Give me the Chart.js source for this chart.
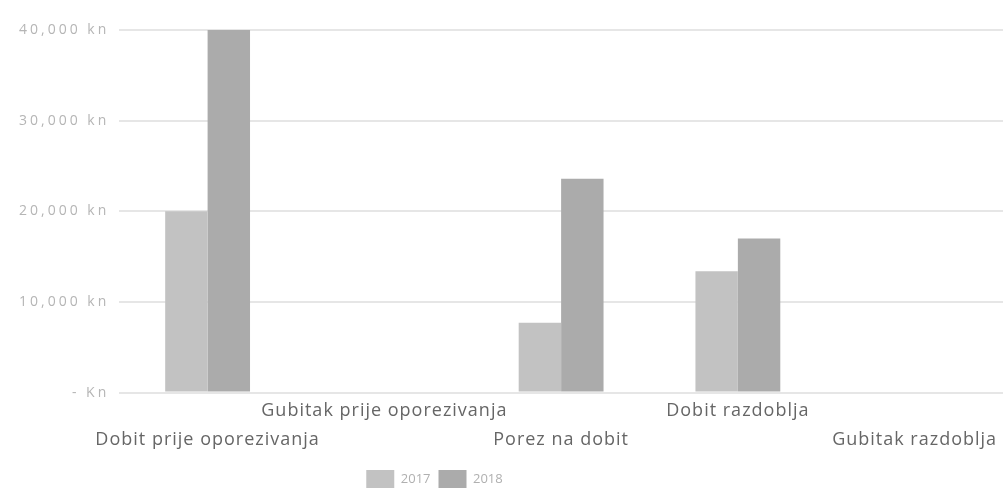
<!DOCTYPE html>
<html>
<head>
<meta charset="utf-8">
<script src="https://cdn.jsdelivr.net/npm/chart.js@4"></script>
<style>
html,body{margin:0;padding:0;background:#fff;}
#wrap{width:1003px;height:494px;}
</style>
</head>
<body>
<div id="wrap"><canvas id="grafikon" width="1003" height="494"></canvas></div>
<script>
// podaci
const kategorije = [
  ["", "Dobit prije oporezivanja"],
  ["Gubitak prije oporezivanja"],
  ["", "Porez na dobit"],
  ["Dobit razdoblja"],
  ["", "Gubitak razdoblja"]
];
const god2017 = [20000, 0, 7700, 13400, 0];
const god2018 = [40000, 0, 23600, 17000, 0];
const yOznake = [0, 10000, 20000, 30000, 40000];

// razmak slova za oznake osi (skenirani izvornik ima razvučen tekst)
const razmakSlova = {
  id: "razmakSlova",
  afterLayout(chart) {
    const razmaci = { x: "1px", y: "3px" };
    Object.keys(razmaci).forEach(id => {
      const sc = chart.scales[id];
      if (sc._razmak) return;
      sc._razmak = true;
      const orig = sc.drawLabels;
      sc.drawLabels = function (area) {
        const ctx = this.ctx;
        ctx.letterSpacing = razmaci[id];
        orig.call(this, area);
        ctx.letterSpacing = "0px";
      };
    });
    // legenda je u izvorniku malo lijevo od sredine
    chart.legend.left -= 70;
    chart.legend.right -= 70;
  }
};

new Chart(document.getElementById("grafikon"), {
  type: "bar",
  plugins: [razmakSlova],
  data: {
    labels: kategorije,
    datasets: [{
      label: "2017",
      data: god2017,
      backgroundColor: "#c2c2c2",
      barPercentage: 1,
      categoryPercentage: 0.48
    }, {
      label: "2018",
      data: god2018,
      backgroundColor: "#ababab",
      barPercentage: 1,
      categoryPercentage: 0.48
    }]
  },
  options: {
    responsive: false,
    animation: false,
    layout: { padding: { left: 6, right: 0, top: 30, bottom: -4 } },
    plugins: {
      legend: {
        position: "bottom",
        labels: {
          color: "#b0b0b0",
          font: { family: "Open Sans", size: 13 },
          boxWidth: 28,
          boxHeight: 18,
          padding: 8
        }
      },
      tooltip: { enabled: false }
    },
    scales: {
      x: {
        grid: { display: false },
        border: { display: false },
        afterFit: ax => { ax.height += 12; },
        ticks: {
          color: "#666",
          font: { family: "Open Sans", size: 18, lineHeight: 1.65 },
          maxRotation: 0,
          autoSkip: false,
          padding: -5
        }
      },
      y: {
        min: 0,
        max: 40000,
        afterBuildTicks: ax => { ax.ticks = yOznake.map(v => ({ value: v })); },
        afterFit: ax => { ax.width += 30; },
        grid: { color: "#e6e6e6", drawTicks: false, lineWidth: 2 },
        border: { display: false },
        ticks: {
          color: "#b5b5b5",
          font: { family: "Open Sans", size: 14 },
          padding: 10,
          callback: v => v === 0 ? "- Kn" : v.toLocaleString("en-US") + " kn"
        }
      }
    }
  }
});
</script>
</body>
</html>
